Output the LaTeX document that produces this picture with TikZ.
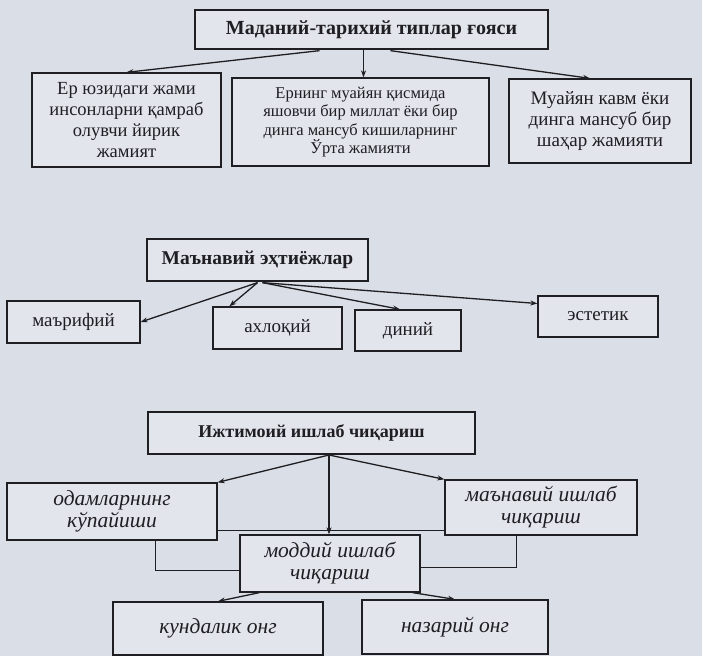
\documentclass[tikz,border=0pt]{standalone}
\usepackage{fontspec}
\setmainfont{Liberation Serif}
\usetikzlibrary{calc,arrows.meta}
\definecolor{bg}{RGB}{218,222,230}
\definecolor{boxfill}{RGB}{226,229,235}
\definecolor{ink}{RGB}{30,30,35}
\tikzset{
  box/.style={draw=ink, line width=1.3pt, fill=boxfill, text=ink, align=center, inner sep=2pt},
  arr/.style={draw=ink, line width=1.3pt, -{Stealth[length=7pt,width=5pt]}},
  ln/.style={draw=ink, line width=1.3pt},
  ttl/.style={font=\fontsize{19.5}{22}\selectfont\bfseries},
  bodyA/.style={font=\fontsize{18.5}{21}\selectfont},
  bodyC/.style={font=\fontsize{19}{21}\selectfont},
  bodyB/.style={font=\fontsize{16.5}{18.5}\selectfont},
  item/.style={font=\fontsize{19}{22}\selectfont},
  ital/.style={font=\fontsize{21.5}{22}\selectfont\itshape},
}
\begin{document}
\begin{tikzpicture}[x=1pt,y=-1pt]
\fill[bg] (0,0) rectangle (702,656);
\useasboundingbox (0,0) rectangle (702,656);

% ---------- section 1
\node[box, ttl, font=\fontsize{20}{22}\selectfont\bfseries, minimum width=353pt, minimum height=39pt] (t1) at (371.5,29.5) {Маданий-тарихий типлар ғояси};
\node[box, bodyA, minimum width=189pt, minimum height=94pt] (a1) at (126.5,120) {Ер юзидаги жами\\инсонларни қамраб\\олувчи йирик\\жамият};
\node[box, bodyB, minimum width=257pt, minimum height=88pt] (a2) at (360.5,122) {Ернинг муайян қисмида\\яшовчи бир миллат ёки бир\\динга мансуб кишиларнинг\\Ўрта жамияти};
\node[box, bodyC, minimum width=182pt, minimum height=84pt] (a3) at (600,121) {Муайян кавм ёки\\динга мансуб бир\\шаҳар жамияти};

\coordinate (m1) at ($(t1.south)+(-8,0)$);
\draw[arr] ($(t1.south)+(-52,1)$) -- (a1.north);
\draw[arr] (m1) -- (m1 |- a2.north);
\draw[arr] ($(t1.south)+(19,1)$) -- ($(a3.north)+(-10,0)$);

% ---------- section 2
\node[box, ttl, minimum width=221pt, minimum height=42pt] (t2) at (257.5,260) {Маънавий эҳтиёжлар};
\node[box, item, minimum width=133pt, minimum height=42pt] (b1) at (73.5,322) {маърифий};
\node[box, item, minimum width=129pt, minimum height=42pt] (b2) at (277.5,328) {ахлоқий};
\node[box, item, minimum width=106pt, minimum height=41pt] (b3) at (408,330.5) {диний};
\node[box, item, minimum width=120pt, minimum height=41pt] (b4) at (598,316.5) {эстетик};

\coordinate (o2) at ($(t2.south)+(0,1)$);
\coordinate (o2r) at ($(t2.south)+(5,1)$);
\draw[arr] (o2) -- (b1.east);
\draw[arr] (o2) -- ($(b2.north west)+(17,0)$);
\draw[arr] (o2r) -- ($(b3.north)+(-8,0)$);
\draw[arr] (o2r) -- ($(b4.west)+(0,-13)$);

% ---------- section 3
\node[box, font=\fontsize{18}{22}\selectfont\bfseries, minimum width=327pt, minimum height=42pt] (t3) at (311.5,433) {Ижтимоий ишлаб чиқариш};
\node[box, ital, minimum width=210pt, minimum height=57pt] (c1) at (112,511.5) {одамларнинг\\кўпайиши};
\node[box, ital, minimum width=192pt, minimum height=55pt] (c2) at (541,507.5) {маънавий ишлаб\\чиқариш};
\node[box, ital, minimum width=180pt, minimum height=57pt] (c3) at (330,563.5) {моддий ишлаб\\чиқариш};
\node[box, ital, minimum width=210pt, minimum height=53pt] (c4) at (218,628.5) {кундалик онг};
\node[box, ital, minimum width=186pt, minimum height=54pt] (c5) at (455,627) {назарий онг};

\coordinate (o3) at (329,455);
\draw[arr] (o3) -- (c1.north east);
\draw[arr] (o3) -- (c2.north west);
\draw[arr] (o3) -- (o3 |- c3.north);
\coordinate (hl) at ($(c1.south east)+(0,-10)$);
\draw[ln] (hl) -- (hl -| c2.west);
\draw[ln] ($(c1.south west)+(149,0)$) |- ($(c3.north west)+(0,36)$);
\draw[ln] ($(c2.south west)+(72,0)$) |- ($(c3.north east)+(0,33)$);
\draw[arr] ($(c3.south west)+(20,0)$) -- (c4.north);
\draw[arr] ($(c3.south east)+(-8,0)$) -- (c5.north);
\end{tikzpicture}
\end{document}
